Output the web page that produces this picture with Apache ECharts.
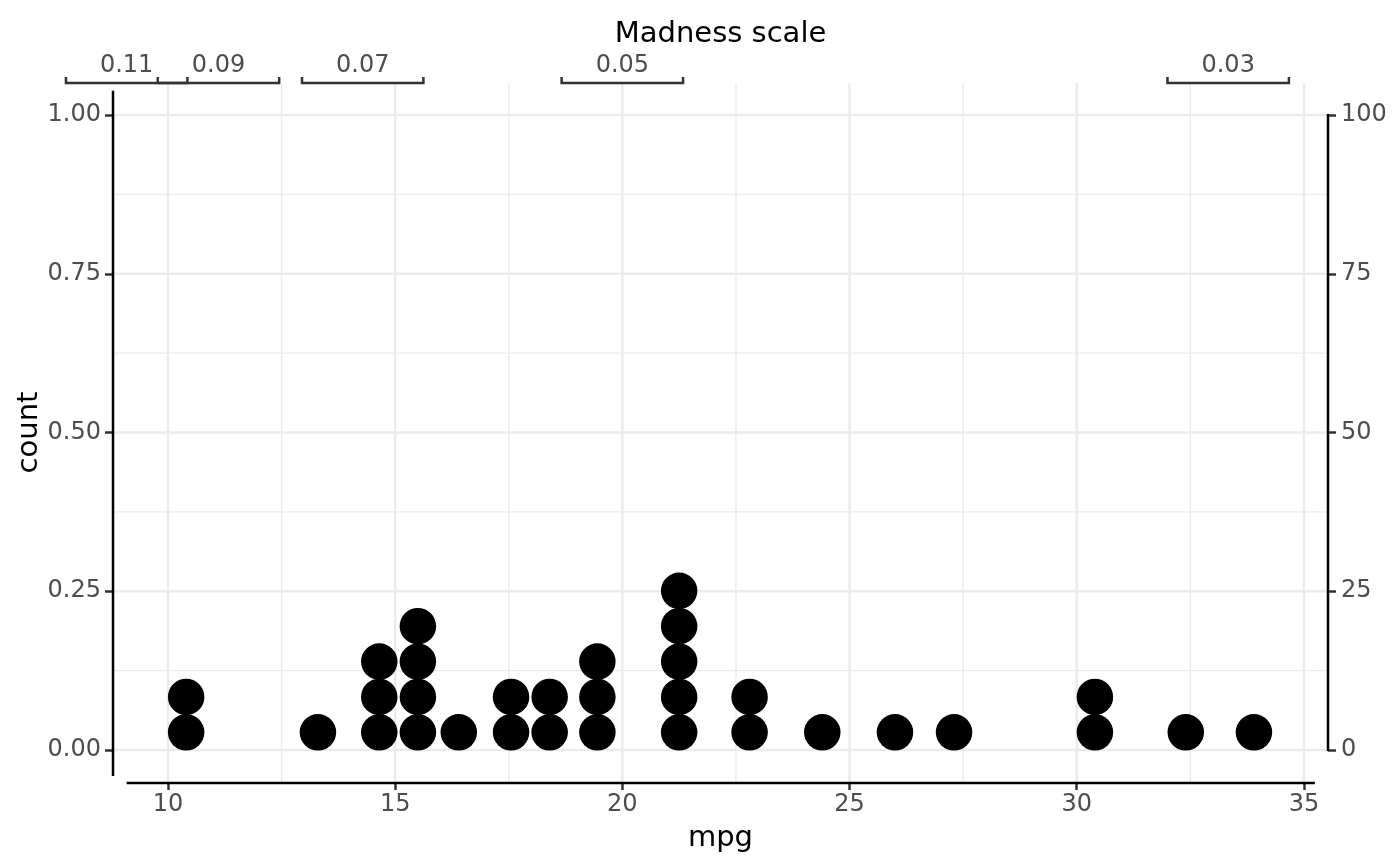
<!DOCTYPE html>
<html><head><meta charset="utf-8">
<script src="https://cdn.jsdelivr.net/npm/echarts@6/dist/echarts.min.js"></script>
<style>html,body{margin:0;padding:0;background:#fff}#c{width:1400px;height:866px}</style>
</head><body><div id="c"></div>
<script>
// ---- data ----
const binCenters = [10.4, 13.3, 14.65, 15.5, 16.4, 17.55, 18.4, 19.45, 21.25, 22.8, 24.4, 26.0, 27.3, 30.4, 32.4, 33.9];
const binCounts  = [2, 1, 3, 4, 1, 2, 2, 3, 5, 2, 1, 1, 1, 2, 1, 1];
const xTicks = [10, 15, 20, 25, 30, 35];
const xMinorTicks = [12.5, 17.5, 22.5, 27.5, 32.5];
const yTicks = [0, 0.25, 0.5, 0.75, 1];
const yMinorTicks = [0.125, 0.375, 0.625, 0.875];
const yRightTicks = [0, 25, 50, 75, 100];
const madnessTicks = [0.11, 0.09, 0.07, 0.05, 0.03];

// ---- layout / scale settings ----
const X_MIN = 8.79, X_MAX = 35.53;
const Y_MIN = -0.0504, Y_MAX = 1.0504;
const STACK_STEP = 0.0557;          // dot stacking step in count units
const BRACKET_HALF = 1.336;         // bracket half width in mpg units
const bottomAxisSpan = [9.09, 35.24];
const leftAxisSpan = [-0.041, 1.038];
const rightAxisSpan = [0, 100];

const FONT = 'DejaVu Sans';
const TICK_COL = '#4d4d4d';
const GRID_COL = '#ebebeb';

const dots = [];
binCenters.forEach((c, i) => {
  for (let k = 0; k < binCounts[i]; k++) dots.push([c, (k + 0.5) * STACK_STEP]);
});

const gridData = [];
xTicks.forEach(v => gridData.push([v, 0, 1, 1]));
xMinorTicks.forEach(v => gridData.push([v, 0, 1, 0]));
yTicks.forEach(v => gridData.push([X_MIN, v, 0, 1]));
yMinorTicks.forEach(v => gridData.push([X_MIN, v, 0, 0]));

const chart = echarts.init(document.getElementById('c'), null, {renderer: 'canvas'});
chart.setOption({
  animation: false,
  backgroundColor: '#ffffff',
  textStyle: {fontFamily: FONT},
  grid: {left: 113, right: 72, top: 83, bottom: 84, containLabel: false},
  xAxis: [{
    type: 'value', position: 'bottom', min: X_MIN, max: X_MAX,
    axisLine: {show: false, onZero: false},
    axisTick: {show: true, customValues: xTicks, length: 8, lineStyle: {color: '#333333', width: 2.5}},
    axisLabel: {customValues: xTicks, color: TICK_COL, fontSize: 24, margin: 11, fontFamily: FONT},
    splitLine: {show: false},
    name: 'mpg', nameLocation: 'middle', nameGap: 42, nameMoveOverlap: false,
    nameTextStyle: {fontSize: 29, color: '#000', fontFamily: FONT}
  }, {
    type: 'value', position: 'top', min: X_MIN, max: X_MAX,
    axisLine: {show: false, onZero: false}, axisTick: {show: false}, axisLabel: {show: false}, splitLine: {show: false},
    name: 'Madness scale', nameLocation: 'middle', nameGap: 34, nameMoveOverlap: false,
    nameTextStyle: {fontSize: 29, color: '#000', fontFamily: FONT}
  }],
  yAxis: [{
    type: 'value', position: 'left', min: Y_MIN, max: Y_MAX,
    axisLine: {show: false, onZero: false},
    axisTick: {show: true, customValues: yTicks, length: 8, lineStyle: {color: '#333333', width: 2.5}},
    axisLabel: {customValues: yTicks, color: TICK_COL, fontSize: 24, margin: 12, fontFamily: FONT,
      formatter: v => Number(v).toFixed(2)},
    splitLine: {show: false},
    name: 'count', nameLocation: 'middle', nameGap: 69, nameMoveOverlap: false,
    nameTextStyle: {fontSize: 29, color: '#000', fontFamily: FONT}
  }, {
    type: 'value', position: 'right', min: Y_MIN * 100, max: Y_MAX * 100,
    axisLine: {show: false, onZero: false},
    axisTick: {show: true, customValues: yRightTicks, length: 8, lineStyle: {color: '#333333', width: 2.5}},
    axisLabel: {customValues: yRightTicks, color: TICK_COL, fontSize: 24, margin: 13, fontFamily: FONT,
      formatter: v => String(Math.round(v))},
    splitLine: {show: false}
  }],
  series: [{
    type: 'custom', name: 'grid', z: 0, silent: true, clip: true,
    xAxisIndex: 0, yAxisIndex: 0,
    data: gridData,
    renderItem: (params, api) => {
      const vertical = api.value(2) === 1;
      const major = api.value(3) === 1;
      let p1, p2;
      if (vertical) { p1 = api.coord([api.value(0), Y_MIN]); p2 = api.coord([api.value(0), Y_MAX]); }
      else { p1 = api.coord([X_MIN, api.value(1)]); p2 = api.coord([X_MAX, api.value(1)]); }
      return {type: 'line', shape: {x1: p1[0], y1: p1[1], x2: p2[0], y2: p2[1]},
        style: {stroke: GRID_COL, lineWidth: major ? 2.4 : 1.4}};
    }
  }, {
    type: 'scatter', name: 'mpg', z: 2, silent: true,
    xAxisIndex: 0, yAxisIndex: 0,
    symbol: 'circle', symbolSize: 36.5,
    itemStyle: {color: '#000000', opacity: 1},
    data: dots
  }, {
    type: 'custom', name: 'axes', z: 3, silent: true, clip: false,
    xAxisIndex: 0, yAxisIndex: 0,
    data: [[0]],
    renderItem: (params, api) => {
      const b1 = api.coord([bottomAxisSpan[0], Y_MIN]), b2 = api.coord([bottomAxisSpan[1], Y_MIN]);
      const l1 = api.coord([X_MIN, leftAxisSpan[0]]), l2 = api.coord([X_MIN, leftAxisSpan[1]]);
      const st = {stroke: '#000', lineWidth: 2.5};
      return {type: 'group', children: [
        {type: 'line', shape: {x1: b1[0], y1: b1[1] + 1, x2: b2[0], y2: b2[1] + 1}, style: st},
        {type: 'line', shape: {x1: l1[0], y1: l1[1], x2: l2[0], y2: l2[1]}, style: st}
      ]};
    }
  }, {
    type: 'custom', name: 'rightAxis', z: 3, silent: true, clip: false,
    xAxisIndex: 0, yAxisIndex: 1,
    data: [[0]],
    renderItem: (params, api) => {
      const r1 = api.coord([X_MAX, rightAxisSpan[0]]), r2 = api.coord([X_MAX, rightAxisSpan[1]]);
      return {type: 'line', shape: {x1: r1[0], y1: r1[1] + 1, x2: r2[0], y2: r2[1] - 1},
        style: {stroke: '#000', lineWidth: 2.5}};
    }
  }, {
    type: 'custom', name: 'madness', z: 3, silent: true, clip: false,
    xAxisIndex: 0, yAxisIndex: 0,
    data: madnessTicks.map(m => [1 / m, Y_MAX, m]),
    renderItem: (params, api) => {
      const c = api.value(0), m = api.value(2);
      const L = api.coord([c - BRACKET_HALF, Y_MAX]);
      const R = api.coord([c + BRACKET_HALF, Y_MAX]);
      const y = L[1];
      return {type: 'group', children: [
        {type: 'polyline', shape: {points: [[L[0], y - 6], [L[0], y], [R[0], y], [R[0], y - 6]]},
          style: {stroke: '#333333', lineWidth: 2.5, fill: null}},
        {type: 'text', x: (L[0] + R[0]) / 2, y: y - 17,
          style: {text: m.toFixed(2), fill: TICK_COL, fontSize: 24, fontFamily: FONT,
            align: 'center', verticalAlign: 'middle'}}
      ]};
    }
  }]
});
</script>
</body></html>
